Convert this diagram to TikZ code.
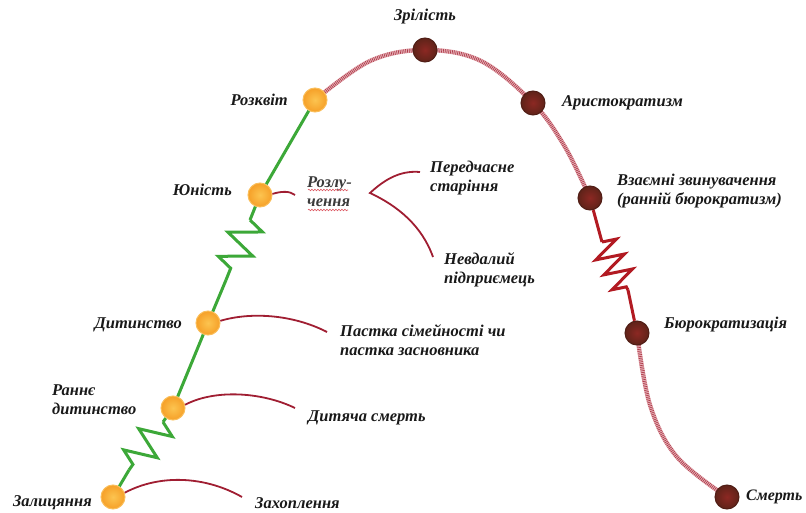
\documentclass[tikz,border=0pt]{standalone}
\usepackage{fontspec}
\setmainfont{Liberation Serif}
\usetikzlibrary{decorations.pathmorphing}
\definecolor{grn}{RGB}{60,168,56}
\definecolor{brk}{RGB}{160,30,50}
\definecolor{pinkl}{RGB}{232,180,186}
\definecolor{stripe}{RGB}{175,60,75}
\definecolor{zred}{RGB}{178,26,34}
\definecolor{txt}{RGB}{25,25,25}
\definecolor{oin}{RGB}{252,196,80}
\definecolor{oout}{RGB}{246,160,40}
\definecolor{obrd}{RGB}{250,190,90}
\definecolor{bin}{RGB}{140,40,35}
\definecolor{bout}{RGB}{95,35,25}
\definecolor{bbrd}{RGB}{80,30,22}
\definecolor{wavy}{RGB}{220,90,100}
\begin{document}
\begin{tikzpicture}[x=1pt,y=1pt,
  onode/.style={circle,minimum size=24pt,inner sep=0pt,draw=obrd,line width=1pt,inner color=oin,outer color=oout},
  bnode/.style={circle,minimum size=24pt,inner sep=0pt,draw=bbrd,line width=1pt,inner color=bin,outer color=bout},
  lbl/.style={font=\fontsize{16.5}{19}\selectfont\bfseries\itshape,text=txt,inner sep=0pt,align=left},
  gline/.style={draw=grn,line width=3pt,line join=miter},
  gzig/.style={draw=grn,line width=3pt,line join=miter,decorate,decoration={zigzag,segment length=26pt,amplitude=16pt}},
  rline/.style={draw=zred,line width=3pt,line join=miter},
  rzig/.style={draw=zred,line width=3pt,line join=miter,decorate,decoration={zigzag,segment length=17pt,amplitude=14pt}},
  pbase/.style={draw=pinkl,line width=4.5pt},
  pstripe/.style={draw=stripe,line width=4pt,dash pattern=on 0.7pt off 1.1pt},
  brkline/.style={draw=brk,line width=1.8pt},
  wline/.style={draw=wavy,line width=0.6pt,decorate,decoration={snake,segment length=3pt,amplitude=0.8pt}}]
\useasboundingbox (0,0) rectangle (806,512);

% positions
\coordinate (c1) at (113,15);
\coordinate (c2) at (173,104);
\coordinate (c3) at (208,189);
\coordinate (c4) at (260,317);
\coordinate (c5) at (315,412);
\coordinate (c6) at (425,462);
\coordinate (c7) at (533,409);
\coordinate (c8) at (590,314);
\coordinate (c9) at (637,179);
\coordinate (c10) at (727,15);

\coordinate (m1) at (370,451);
\coordinate (m2) at (481,451);
\coordinate (m3) at (565,365);
\coordinate (m4) at (650,107);
\coordinate (m5) at (677,55);

% right hatched curves
\draw[pbase] plot[smooth,tension=0.6] coordinates {(c5) (m1) (c6) (m2) (c7) (m3) (c8)};
\draw[pstripe] plot[smooth,tension=0.6] coordinates {(c5) (m1) (c6) (m2) (c7) (m3) (c8)};
\draw[pbase] plot[smooth,tension=0.6] coordinates {(c9) (m4) (m5) (c10)};
\draw[pstripe] plot[smooth,tension=0.6] coordinates {(c9) (m4) (m5) (c10)};

% nodes
\node[onode] (n1) at (c1) {};
\node[onode] (n2) at (c2) {};
\node[onode] (n3) at (c3) {};
\node[onode] (n4) at (c4) {};
\node[onode] (n5) at (c5) {};
\node[bnode] (n6) at (c6) {};
\node[bnode] (n7) at (c7) {};
\node[bnode] (n8) at (c8) {};
\node[bnode] (n9) at (c9) {};
\node[bnode] (n10) at (c10) {};

% green path with springs
\coordinate (za) at (163,90);
\coordinate (zb) at (129,42);
\draw[gline] (n2) -- (za);
\draw[gzig] (za) -- (zb);
\draw[gline] (zb) -- (n1);
\draw[gline] (n2) -- (n3);
\coordinate (zc) at (250,292);
\coordinate (zd) at (226,232);
\draw[gline] (n4) -- (zc);
\draw[gzig] (zc) -- (zd);
\draw[gline] (zd) -- (n3);
\draw[gline] (n4) -- (n5);

% red spring
\coordinate (ze) at (602,270);
\coordinate (zf) at (628,222);
\draw[rline] (n8) -- (ze);
\draw[rzig] (ze) -- (zf);
\draw[rline] (zf) -- (n9);

% brackets
\coordinate (e1) at (242,15);
\coordinate (e2) at (295,104);
\coordinate (e3) at (327,180);
\coordinate (e4) at (295,317);
\draw[brkline] (n1.20) .. controls (160,38) and (205,36) .. (e1);
\draw[brkline] (n2.15) .. controls (215,123) and (262,120) .. (e2);
\draw[brkline] (n3.10) .. controls (250,200) and (292,198) .. (e3);
\draw[brkline] (n4.5) .. controls (282,321) and (290,321) .. (e4);
\coordinate (t1) at (420,340);
\coordinate (t2) at (370,319);
\coordinate (t3) at (433,255);
\draw[brkline] (t1) .. controls (398,342) and (382,330) .. (t2) .. controls (398,306) and (422,286) .. (t3);

% labels
\node[lbl,anchor=east] (l1) at (92,9) {Залицяння};
\node[lbl,anchor=west] (l1b) at (255,9) {Захоплення};
\node[lbl,anchor=west] (l2) at (52,112) {Раннє\\дитинство};
\node[lbl,anchor=east] (l3) at (182,187) {Дитинство};
\node[lbl,anchor=east] (l4) at (232,322) {Юність};
\node[lbl,anchor=east] (l5) at (288,412) {Розквіт};
\node[lbl] (l6) at (425,495) {Зрілість};
\node[lbl,anchor=west] (l7) at (562,409) {Аристократизм};
\node[lbl,anchor=west] (l8) at (617,321) {Взаємні звинувачення\\(ранній бюрократизм)};
\node[lbl,anchor=west] (l9) at (664,187) {Бюрократизація};
\node[lbl,anchor=west,font=\fontsize{16}{19}\selectfont\bfseries\itshape] (l10) at (746,15) {Смерть};
\node[lbl,anchor=west,text=txt!85] (lr) at (307,320) {Розлу-\\чення};
\node[lbl,anchor=west] (lp) at (430,334) {Передчасне\\старіння};
\node[lbl,anchor=west] (ln) at (444,242) {Невдалий\\підприємець};
\node[lbl,anchor=west] (lpa) at (340,172) {Пастка сімейності чи\\пастка засновника};
\node[lbl,anchor=west] (ld) at (308,94) {Дитяча смерть};
% spell-check style underlines
\coordinate (w1a) at (308,322);
\coordinate (w1b) at (348,322);
\coordinate (w2a) at (308,302);
\coordinate (w2b) at (348,302);
\draw[wline] (w1a) -- (w1b);
\draw[wline] (w2a) -- (w2b);
\end{tikzpicture}
\end{document}
